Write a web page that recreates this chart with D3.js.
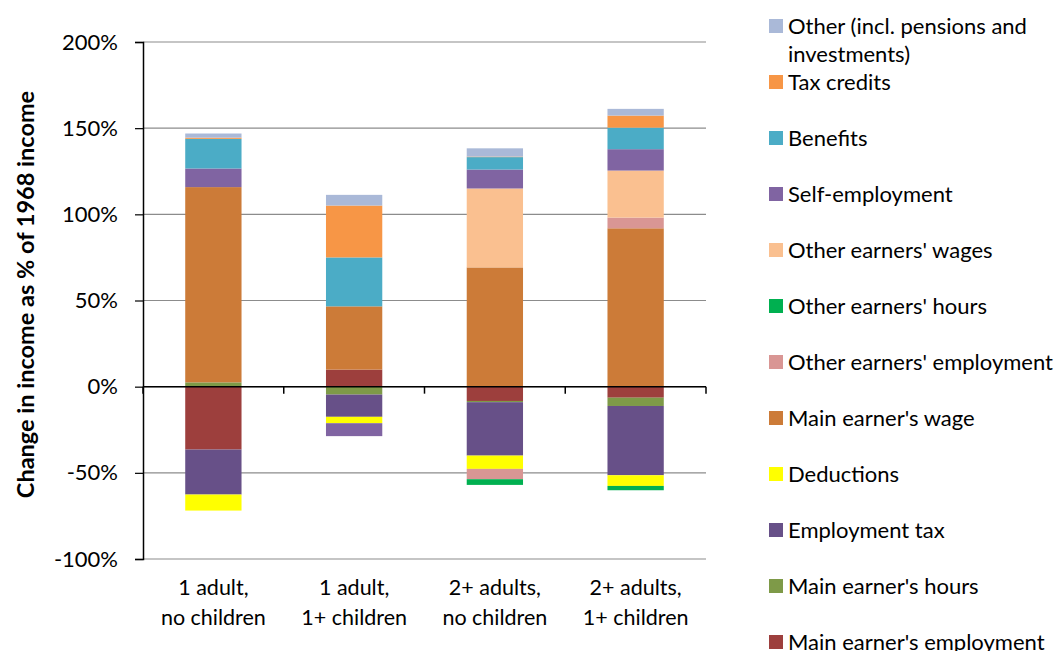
<!DOCTYPE html>
<html lang="en">
<head>
<meta charset="UTF-8">
<title>Change in income</title>
<script src="https://d3js.org/d3.v7.min.js"></script>
<style>
  body { margin: 0; background: #fff; }
  svg { display: block; font-family: Lato, "Open Sans", sans-serif; }
</style>
</head>
<body>
<svg width="1060" height="651"></svg>
<script>
  // categories (x axis), two lines each
  const categories = ["1 adult,\nno children", "1 adult,\n1+ children", "2+ adults,\nno children", "2+ adults,\n1+ children"];

  // series in stacking order (% of 1968 income)
  const mainEmployment  = [-36.5,  9.9, -8.3, -6.4];
  const mainHours       = [  2.5, -4.6, -0.7, -4.8];
  const employmentTax   = [-26.1, -12.9, -31.0, -40.2];
  const deductions      = [ -9.3, -3.7, -7.7, -6.2];
  const mainWage        = [113.3, 36.7, 69.2, 91.9];
  const otherEmployment = [  0,    0,   -6.0,  6.2];
  const otherHours      = [  0,    0,   -3.3, -2.5];
  const otherWages      = [  0,    0,   45.8, 27.3];
  const selfEmployment  = [ 10.8, -7.5, 11.0, 12.4];
  const benefits        = [ 17.2, 28.4,  7.2, 12.5];
  const taxCredits      = [  0.7, 30.1,  0.3,  7.0];
  const otherIncome     = [  2.4,  6.2,  4.8,  3.9];

  const yTicks = [-100, -50, 0, 50, 100, 150, 200];

  const series = [
    { name: "Main earner's employment", values: mainEmployment, color: "#9d3f3d" },
    { name: "Main earner's hours", values: mainHours, color: "#7e9a48" },
    { name: "Employment tax", values: employmentTax, color: "#675088" },
    { name: "Deductions", values: deductions, color: "#ffff00" },
    { name: "Main earner's wage", values: mainWage, color: "#cc7b38" },
    { name: "Other earners' employment", values: otherEmployment, color: "#d99694" },
    { name: "Other earners' hours", values: otherHours, color: "#00b050" },
    { name: "Other earners' wages", values: otherWages, color: "#fac090" },
    { name: "Self-employment", values: selfEmployment, color: "#8064a2" },
    { name: "Benefits", values: benefits, color: "#4bacc6" },
    { name: "Tax credits", values: taxCredits, color: "#f79646" },
    { name: "Other (incl. pensions and\ninvestments)", values: otherIncome, color: "#aab9d8" }
  ];

  const svg = d3.select("svg");
  const plot = { left: 143, right: 706, top: 42, bottom: 559 };

  const x = d3.scaleBand()
    .domain(categories)
    .range([plot.left, plot.right])
    .paddingInner(0.6)
    .paddingOuter(0.3);

  const y = d3.scaleLinear()
    .domain([-100, 200])
    .range([plot.bottom, plot.top]);

  // gridlines
  svg.append("g")
    .selectAll("line")
    .data(yTicks)
    .join("line")
    .attr("x1", plot.left).attr("x2", plot.right)
    .attr("y1", d => y(d)).attr("y2", d => y(d))
    .attr("stroke", "#8c8c8c")
    .attr("stroke-width", 1.2);

  // stacked bars
  const table = categories.map((c, i) => {
    const row = { cat: c };
    series.forEach((s, k) => row[k] = s.values[i]);
    return row;
  });
  const stacked = d3.stack()
    .keys(series.map((s, k) => k))
    .offset(d3.stackOffsetDiverging)(table);

  svg.append("g")
    .selectAll("g")
    .data(stacked)
    .join("g")
    .attr("fill", (d, k) => series[k].color)
    .selectAll("rect")
    .data(d => d.filter(p => p[1] !== p[0]))
    .join("rect")
    .attr("x", d => x(d.data.cat))
    .attr("width", x.bandwidth())
    .attr("y", d => y(Math.max(d[0], d[1])))
    .attr("height", d => Math.abs(y(d[0]) - y(d[1])));

  // y axis
  const yAxis = svg.append("g")
    .attr("transform", `translate(${plot.left},0)`)
    .call(d3.axisLeft(y).tickValues(yTicks).tickFormat(d => d + "%").tickSize(8).tickPadding(17));
  yAxis.select(".domain").attr("stroke", "#000").attr("stroke-width", 1.5);
  yAxis.selectAll(".tick line").attr("stroke", "#000").attr("stroke-width", 1.2);
  yAxis.selectAll("text").attr("font-size", 22).attr("fill", "#000").attr("font-family", "Lato, sans-serif");

  // zero line with category separators
  const step = x.step();
  const gap = (step - x.bandwidth()) / 2;
  const bounds = categories.map(c => x(c) - gap).concat([x(categories[categories.length - 1]) + x.bandwidth() + gap]);
  svg.append("line")
    .attr("x1", plot.left).attr("x2", plot.right)
    .attr("y1", y(0)).attr("y2", y(0))
    .attr("stroke", "#000").attr("stroke-width", 1.5);
  svg.append("g")
    .selectAll("line")
    .data(bounds)
    .join("line")
    .attr("x1", d => d).attr("x2", d => d)
    .attr("y1", y(0)).attr("y2", y(0) + 7)
    .attr("stroke", "#000").attr("stroke-width", 1.5);

  // category labels
  const catLabels = svg.append("g")
    .selectAll("text")
    .data(categories)
    .join("text")
    .attr("text-anchor", "middle")
    .attr("font-size", 21.5)
    .attr("fill", "#000");
  catLabels.selectAll("tspan")
    .data(c => c.split("\n").map(t => ({ t, c })))
    .join("tspan")
    .attr("x", d => x(d.c) + x.bandwidth() / 2)
    .attr("y", (d, i) => 595 + i * 30)
    .text(d => d.t);

  // y axis title
  svg.append("text")
    .attr("transform", `translate(34,${(82 + 507) / 2}) rotate(-90)`)
    .attr("text-anchor", "middle")
    .attr("font-size", 23.5)
    .attr("font-weight", "bold")
    .text("Change in income as % of 1968 income");

  // legend (reverse of stacking order)
  const legend = svg.append("g")
    .selectAll("g")
    .data(series.slice().reverse())
    .join("g")
    .attr("transform", (d, i) => `translate(769,${26 + i * 56})`);
  legend.append("rect")
    .attr("x", 0).attr("y", -7)
    .attr("width", 14).attr("height", 14)
    .attr("fill", d => d.color);
  legend.append("text")
    .attr("font-size", 22)
    .attr("fill", "#000")
    .selectAll("tspan")
    .data(d => d.name.split("\n"))
    .join("tspan")
    .attr("x", 19)
    .attr("y", (d, i) => 7.5 + i * 28)
    .text(d => d);
</script>
</body>
</html>
